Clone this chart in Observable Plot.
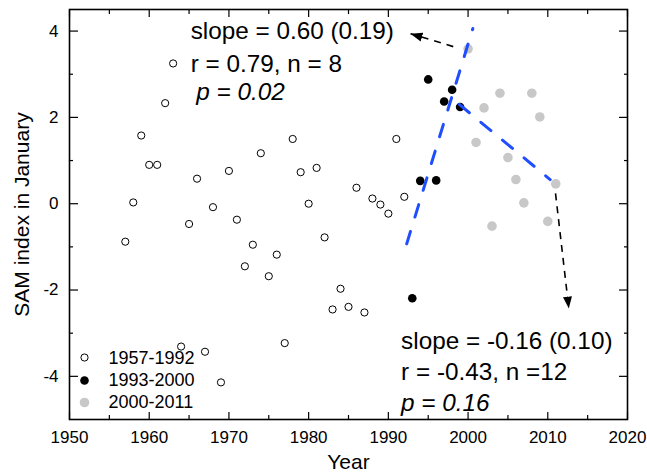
<!DOCTYPE html>
<html>
<head>
<meta charset="utf-8">
<script src="https://cdn.jsdelivr.net/npm/d3@7"></script>
<script src="https://cdn.jsdelivr.net/npm/@observablehq/plot@0.6"></script>
<style>
  html, body { margin: 0; padding: 0; background: #fff; overflow: hidden; }
  #chart svg { display: block; }
</style>
</head>
<body>
<div id="chart"></div>
<script>
// ---- data ----
const years1 = [1957,1958,1959,1960,1961,1962,1963,1964,1965,1966,1967,1968,1969,1970,1971,1972,1973,1974,1975,1976,1977,1978,1979,1980,1981,1982,1983,1984,1985,1986,1987,1988,1989,1990,1991,1992];
const sam1   = [-0.88,0.03,1.58,0.90,0.90,2.33,3.25,-3.31,-0.47,0.58,-3.43,-0.08,-4.14,0.76,-0.37,-1.45,-0.95,1.17,-1.68,-1.18,-3.23,1.50,0.73,0.00,0.83,-0.78,-2.45,-1.97,-2.39,0.37,-2.52,0.12,-0.02,-0.23,1.50,0.16];
const years2 = [1993,1994,1995,1996,1997,1998,1999];
const sam2   = [-2.19,0.53,2.88,0.54,2.37,2.64,2.24];
const years3 = [2000,2001,2002,2003,2004,2005,2006,2007,2008,2009,2010,2011];
const sam3   = [3.59,1.42,2.22,-0.52,2.56,1.07,0.56,0.02,2.56,2.01,-0.41,0.46];

// regression lines (endpoints as drawn)
const fitEarlyYears = [1992.3, 2000.6];
const fitEarlySam   = [-0.93, 4.06];
const fitLateYears  = [1998.9, 2010.3];
const fitLateSam    = [2.30, 0.56];

// annotation arrows (start -> tip)
const arrowX1 = [1998.14, 2010.97];
const arrowY1 = [3.64, 0.24];
const arrowX2 = [1992.78, 2012.64];
const arrowY2 = [3.94, -2.43];

const legendLabels = ["1957-1992", "1993-2000", "2000-2011"];
const upperNotes = ["slope = 0.60 (0.19)", "r = 0.79, n = 8", "p = 0.02"];
const lowerNotes = ["slope = -0.16 (0.10)", "r = -0.43, n =12", "p = 0.16"];

const xMajor = [1950,1960,1970,1980,1990,2000,2010,2020];
const xMinor = [1955,1965,1975,1985,1995,2005,2015];
const yMajor = [-4,-2,0,2,4];
const yMinor = [-3,-1,1,3];

// ---- tables built from the arrays ----
const zip = (xs, ys) => xs.map((x, i) => ({year: x, sam: ys[i]}));
const p1 = zip(years1, sam1);
const p2 = zip(years2, sam2);
const p3 = zip(years3, sam3);
const fitEarly = zip(fitEarlyYears, fitEarlySam);
const fitLate = zip(fitLateYears, fitLateSam);
const arrows = arrowX1.map((x, i) => ({x1: x, y1: arrowY1[i], x2: arrowX2[i], y2: arrowY2[i]}));

const FONT = "'Liberation Sans', Arial, Helvetica, sans-serif";
const BLUE = "#1f4dff";
const GRAY = "#c8c8c8";
const NOTE = 24.3;

function filledArrow(color, context) {
  const ns = "http://www.w3.org/2000/svg";
  const doc = (context && context.document) || document;
  const m = doc.createElementNS(ns, "marker");
  m.setAttribute("viewBox", "-12 -5 12 10");
  m.setAttribute("markerWidth", 12);
  m.setAttribute("markerHeight", 10);
  m.setAttribute("markerUnits", "userSpaceOnUse");
  m.setAttribute("orient", "auto");
  m.setAttribute("refX", 0);
  m.setAttribute("refY", 0);
  const p = doc.createElementNS(ns, "path");
  p.setAttribute("d", "M-12,-4.5L0,0L-12,4.5Z");
  p.setAttribute("fill", color);
  p.setAttribute("stroke", "none");
  p.setAttribute("stroke-dasharray", "none");
  m.appendChild(p);
  return m;
}

function build(markerEnd) {
  const tickOnly = () => "";
  return Plot.plot({
    width: 647,
    height: 474,
    marginLeft: 69,
    marginRight: 20,
    marginTop: 9,
    marginBottom: 55,
    style: {fontFamily: FONT, fontSize: "17px", color: "black", background: "white", overflow: "visible"},
    x: {domain: [1950, 2020]},
    y: {domain: [-5, 4.5]},
    marks: [
      // axis labels
      Plot.axisX({ticks: xMajor, tickSize: 0, tickPadding: 11, tickFormat: d => String(d), label: null, fontSize: 17}),
      Plot.axisY({ticks: yMajor, tickSize: 0, tickPadding: 11, tickFormat: d => String(d), label: null, fontSize: 17}),
      // inward ticks on all sides
      Plot.axisX({ticks: xMajor, tickSize: -7, tickFormat: tickOnly, label: null, strokeWidth: 1.2}),
      Plot.axisX({ticks: xMinor, tickSize: -4, tickFormat: tickOnly, label: null, strokeWidth: 1.2}),
      Plot.axisX({anchor: "top", ticks: xMajor, tickSize: -7, tickFormat: tickOnly, label: null, strokeWidth: 1.2}),
      Plot.axisX({anchor: "top", ticks: xMinor, tickSize: -4, tickFormat: tickOnly, label: null, strokeWidth: 1.2}),
      Plot.axisY({ticks: yMajor, tickSize: -9, tickFormat: tickOnly, label: null, strokeWidth: 1.2}),
      Plot.axisY({ticks: yMinor, tickSize: -4, tickFormat: tickOnly, label: null, strokeWidth: 1.2}),
      Plot.axisY({anchor: "right", ticks: yMajor, tickSize: -9, tickFormat: tickOnly, label: null, strokeWidth: 1.2}),
      Plot.axisY({anchor: "right", ticks: yMinor, tickSize: -4, tickFormat: tickOnly, label: null, strokeWidth: 1.2}),
      Plot.frame({stroke: "black", strokeWidth: 1.6}),
      // axis titles
      Plot.text(["SAM index in January"], {frameAnchor: "left", dx: -47, rotate: -90, text: d => d, fontSize: 21, textAnchor: "middle", lineAnchor: "middle"}),
      Plot.text(["Year"], {frameAnchor: "bottom", dy: 43, text: d => d, fontSize: 21, textAnchor: "middle", lineAnchor: "middle"}),
      // points
      Plot.dot(p1, {x: "year", y: "sam", r: 3.6, stroke: "black", strokeWidth: 1, fill: "white"}),
      Plot.dot(p2, {x: "year", y: "sam", r: 4.3, fill: "black"}),
      Plot.dot(p3, {x: "year", y: "sam", r: 4.8, fill: GRAY}),
      // regression lines
      Plot.line(fitEarly, {x: "year", y: "sam", stroke: BLUE, strokeWidth: 3, strokeDasharray: "13,15"}),
      Plot.line(fitLate, {x: "year", y: "sam", stroke: BLUE, strokeWidth: 3, strokeDasharray: "13,15"}),
      // arrows
      Plot.link(arrows, {x1: "x1", y1: "y1", x2: "x2", y2: "y2", stroke: "black", strokeWidth: 1.6, strokeDasharray: "7,6", markerEnd}),
      // annotations
      Plot.text([upperNotes[0]], {x: 1965.2, y: 4.0, text: d => d, fontSize: NOTE, textAnchor: "start", lineAnchor: "middle"}),
      Plot.text([upperNotes[1]], {x: 1965.2, y: 3.24, text: d => d, fontSize: NOTE, textAnchor: "start", lineAnchor: "middle"}),
      Plot.text([upperNotes[2]], {x: 1965.9, y: 2.58, text: d => d, fontSize: NOTE, fontStyle: "italic", textAnchor: "start", lineAnchor: "middle"}),
      Plot.text([lowerNotes[0]], {x: 1991.6, y: -3.18, text: d => d, fontSize: NOTE, textAnchor: "start", lineAnchor: "middle"}),
      Plot.text([lowerNotes[1]], {x: 1991.6, y: -3.91, text: d => d, fontSize: NOTE, textAnchor: "start", lineAnchor: "middle"}),
      Plot.text([lowerNotes[2]], {x: 1991.6, y: -4.62, text: d => d, fontSize: NOTE, fontStyle: "italic", textAnchor: "start", lineAnchor: "middle"}),
      // legend
      Plot.dot([legendLabels[0]], {frameAnchor: "bottom-left", dx: 15, dy: -62, r: 3.6, stroke: "black", strokeWidth: 1, fill: "white"}),
      Plot.dot([legendLabels[1]], {frameAnchor: "bottom-left", dx: 15, dy: -39, r: 4.3, fill: "black"}),
      Plot.dot([legendLabels[2]], {frameAnchor: "bottom-left", dx: 15, dy: -17, r: 4.8, fill: GRAY}),
      Plot.text([legendLabels[0]], {frameAnchor: "bottom-left", dx: 39, dy: -61, text: d => d, fontSize: 18, textAnchor: "start", lineAnchor: "middle"}),
      Plot.text([legendLabels[1]], {frameAnchor: "bottom-left", dx: 39, dy: -39, text: d => d, fontSize: 18, textAnchor: "start", lineAnchor: "middle"}),
      Plot.text([legendLabels[2]], {frameAnchor: "bottom-left", dx: 39, dy: -17, text: d => d, fontSize: 18, textAnchor: "start", lineAnchor: "middle"})
    ]
  });
}

let chart;
try {
  chart = build(filledArrow);
} catch (e) {
  chart = build("arrow");
}
document.getElementById("chart").appendChild(chart);
</script>
</body>
</html>
